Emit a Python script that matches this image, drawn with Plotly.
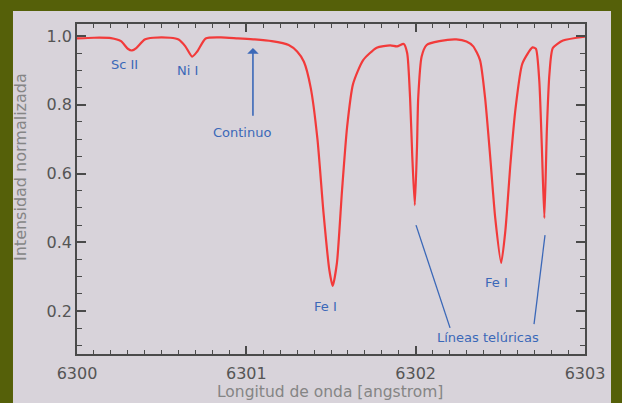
import plotly.graph_objects as go

wavelength = [6300.00, 6300.10, 6300.20, 6300.26, 6300.30, 6300.325, 6300.35, 6300.40, 6300.45,
              6300.55, 6300.60, 6300.64, 6300.68, 6300.71, 6300.76, 6300.85, 6300.95, 6301.05,
              6301.15, 6301.25, 6301.30, 6301.34, 6301.38, 6301.42, 6301.455, 6301.49, 6301.51,
              6301.535, 6301.565, 6301.595, 6301.63, 6301.69, 6301.77, 6301.85, 6301.89, 6301.93,
              6301.95, 6301.967, 6301.98, 6301.995, 6302.008, 6302.015, 6302.035, 6302.065,
              6302.14, 6302.24, 6302.30, 6302.34, 6302.38, 6302.41, 6302.44, 6302.47, 6302.505,
              6302.53, 6302.56, 6302.59, 6302.63, 6302.69, 6302.71, 6302.73, 6302.745, 6302.76,
              6302.775, 6302.79, 6302.81, 6302.87, 6303.00]
intensity = [0.993, 0.995, 0.994, 0.985, 0.963, 0.958, 0.965, 0.990, 0.995,
             0.995, 0.990, 0.970, 0.940, 0.955, 0.993, 0.996, 0.993, 0.990,
             0.985, 0.974, 0.955, 0.925, 0.850, 0.700, 0.490, 0.320, 0.273,
             0.340, 0.550, 0.735, 0.860, 0.930, 0.966, 0.973, 0.970, 0.977,
             0.950, 0.820, 0.650, 0.508, 0.680, 0.820, 0.940, 0.974,
             0.985, 0.990, 0.984, 0.970, 0.930, 0.820, 0.650, 0.470, 0.340,
             0.435, 0.630, 0.790, 0.920, 0.967, 0.963, 0.870, 0.680, 0.470,
             0.730, 0.890, 0.965, 0.987, 0.998]

x_ticks = [6300, 6301, 6302, 6303]
y_ticks = [0.2, 0.4, 0.6, 0.8, 1.0]
y_tick_labels = ["0.2", "0.4", "0.6", "0.8", "1.0"]

BLUE = "#3b68b8"
AX = "#4a4a4a"
BG = "#d8d3da"
OLIVE = "#556009"

fig = go.Figure()
fig.add_trace(go.Scatter(x=wavelength, y=intensity, mode="lines",
                         line=dict(color="#f23a3a", width=2.2, shape="spline", smoothing=0.6),
                         showlegend=False, hoverinfo="skip"))

fig.add_shape(type="rect", xref="paper", yref="paper", x0=-0.126, x1=1.0512, y0=-0.2, y1=1.0394,
              fillcolor=BG, line=dict(width=0), layer="below")

# telluric pointer lines
fig.add_shape(type="line", x0=6302.002, y0=0.450, x1=6302.203, y1=0.151,
              line=dict(color=BLUE, width=1.3))
fig.add_shape(type="line", x0=6302.764, y0=0.421, x1=6302.699, y1=0.162,
              line=dict(color=BLUE, width=1.3))

fnt = dict(family="DejaVu Sans", size=13, color=BLUE)
labels = [("Sc II", 6300.283, 0.916), ("Ni I", 6300.650, 0.901), ("Continuo", 6300.974, 0.718),
          ("Fe I", 6301.465, 0.212), ("Fe I", 6302.480, 0.282), ("Líneas telúricas", 6302.427, 0.122)]
for t, xx, yy in labels:
    fig.add_annotation(x=xx, y=yy, text=t, showarrow=False, font=fnt, xanchor="center", yanchor="middle")

fig.add_annotation(x=6301.039, y=0.965, ax=6301.039, ay=0.764, axref="x", ayref="y",
                   xref="x", yref="y", text="", showarrow=True, arrowhead=1, arrowsize=1.2,
                   arrowwidth=1.6, arrowcolor=BLUE)

fig.add_annotation(xref="paper", yref="paper", x=(20 - 77) / 508, y=(354 - 167) / 330,
                   text="Intensidad normalizada", textangle=-90, showarrow=False,
                   font=dict(family="DejaVu Sans", size=16, color="#858585"),
                   xanchor="center", yanchor="middle")
fig.add_annotation(xref="paper", yref="paper", x=(330 - 77) / 508, y=(354 - 392) / 330,
                   text="Longitud de onda [angstrom]", showarrow=False,
                   font=dict(family="DejaVu Sans", size=15.5, color="#858585"),
                   xanchor="center", yanchor="middle")

fig.update_xaxes(range=[6300, 6303], tickvals=x_ticks, ticktext=[str(v) for v in x_ticks],
                 ticks="inside", ticklen=8, tickwidth=1.5, tickcolor=AX,
                 showline=True, linecolor=AX, linewidth=1.5, mirror="allticks",
                 showgrid=False, zeroline=False, ticklabelstandoff=4,
                 tickfont=dict(family="DejaVu Sans", size=16, color="#555555"),
                 minor=dict(dtick=0.1, ticks="inside", ticklen=4, tickwidth=1.2, tickcolor=AX, showgrid=False))
fig.update_yaxes(range=[0.075, 1.035], tickvals=y_ticks, ticktext=y_tick_labels,
                 ticks="inside", ticklen=9, tickwidth=1.5, tickcolor=AX,
                 showline=True, linecolor=AX, linewidth=1.5, mirror="allticks",
                 showgrid=False, zeroline=False,
                 tickfont=dict(family="DejaVu Sans", size=16, color="#555555"),
                 minor=dict(tick0=0, dtick=0.05, ticks="inside", ticklen=5, tickwidth=1.2, tickcolor=AX, showgrid=False))

fig.update_layout(width=622, height=403, margin=dict(l=77, r=37, t=24, b=49),
                  paper_bgcolor=OLIVE, plot_bgcolor=BG, showlegend=False)

fig.write_html("out.html", config={"displayModeBar": False},
               post_script="document.body.style.margin='0';document.body.style.overflow='hidden';")
